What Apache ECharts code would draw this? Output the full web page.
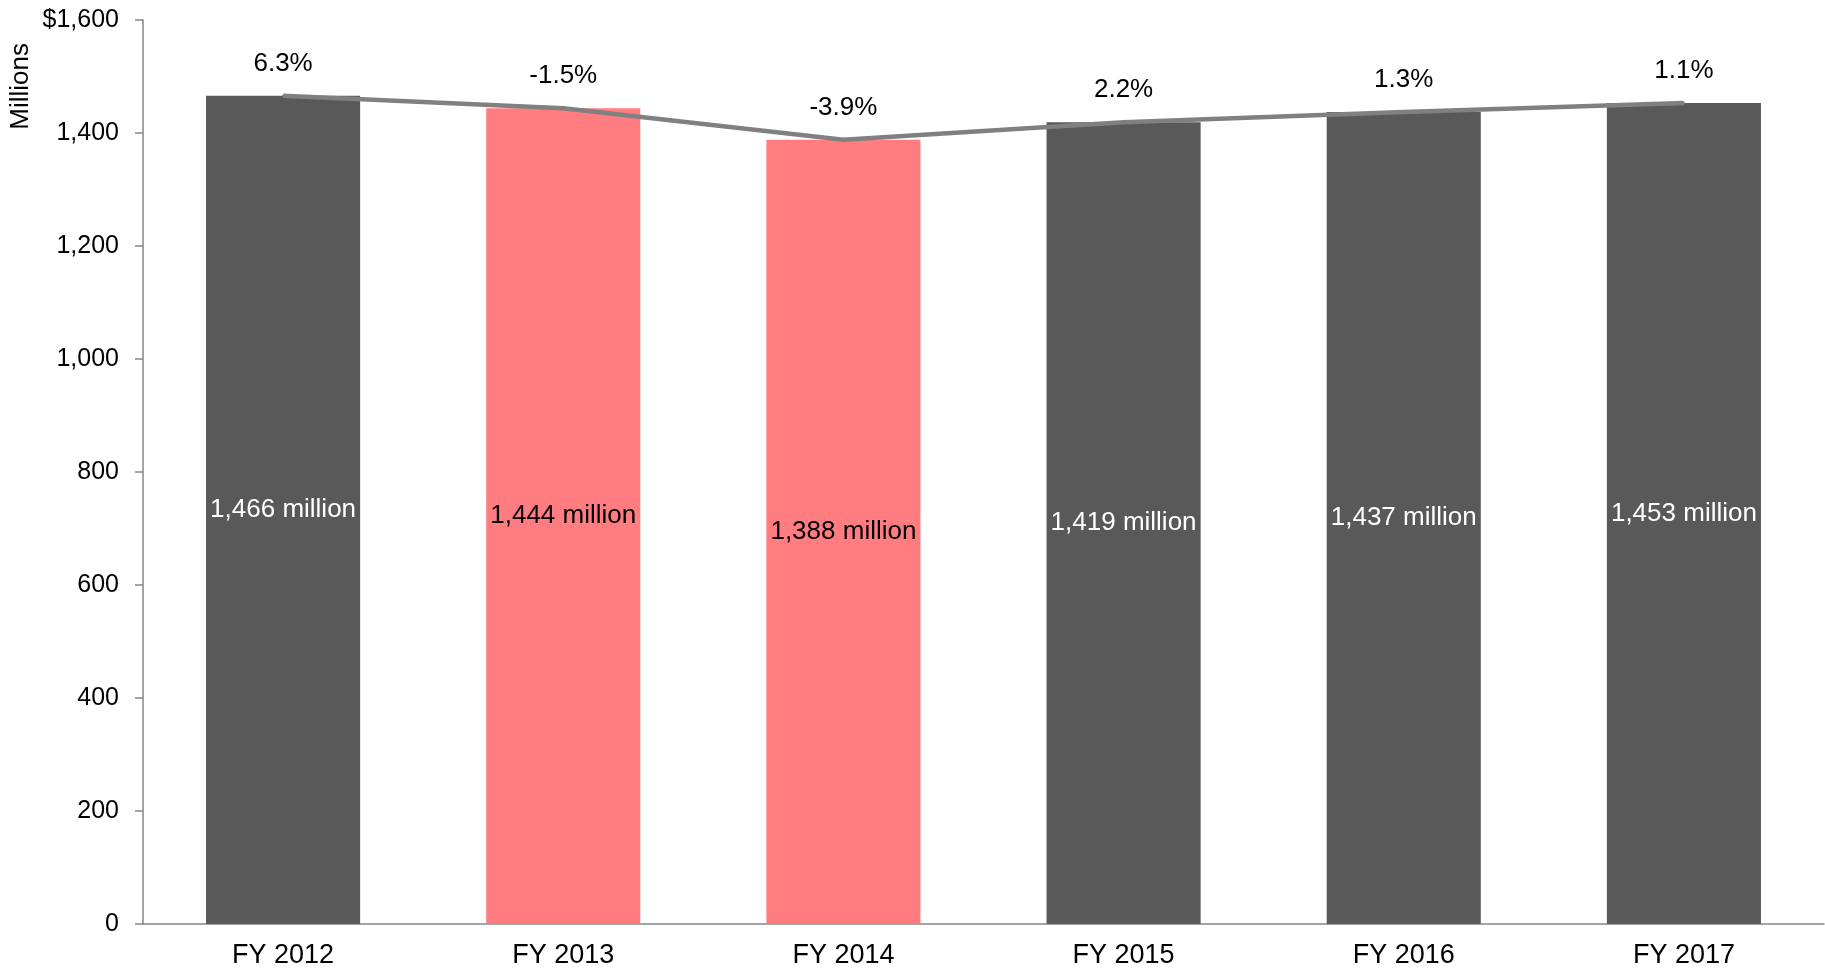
<!DOCTYPE html>
<html>
<head>
<meta charset="utf-8">
<script src="https://cdn.jsdelivr.net/npm/echarts@6/dist/echarts.min.js"></script>
<style>
  html, body { margin: 0; padding: 0; background: #fff; }
  #chart { width: 1825px; height: 980px; }
</style>
</head>
<body>
<div id="chart"></div>
<script>
// fiscal years and values (millions)
const years = ['FY 2012', 'FY 2013', 'FY 2014', 'FY 2015', 'FY 2016', 'FY 2017']
const revenue = [1466, 1444, 1388, 1419, 1437, 1453]
const growth = ['6.3%', '-1.5%', '-3.9%', '2.2%', '1.3%', '1.1%']
// bars with a decline are highlighted
const declined = [false, true, true, false, false, false]

const DARK = '#595959'
const PINK = '#FF7C80'
const FONT = 'Liberation Sans, Arial, sans-serif'

const chart = echarts.init(document.getElementById('chart'))

chart.setOption({
  animation: false,
  textStyle: { fontFamily: FONT },
  grid: { left: 143, right: 1, top: 20, bottom: 56 },
  graphic: [{
    type: 'text',
    left: 8,
    top: 43,
    rotation: Math.PI / 2,
    style: { text: 'Millions', font: '26px ' + FONT, fill: '#000' }
  }],
  xAxis: {
    type: 'category',
    data: years,
    axisLine: { lineStyle: { color: '#868686', width: 1.5 } },
    axisTick: { show: false },
    axisLabel: { color: '#000', fontSize: 27, margin: 18 }
  },
  yAxis: {
    type: 'value',
    min: 0,
    max: 1600,
    interval: 200,
    splitLine: { show: false },
    axisLine: { show: true, lineStyle: { color: '#868686', width: 1.5 } },
    axisTick: { show: true, length: 8, lineStyle: { color: '#868686', width: 1.5 } },
    axisLabel: {
      color: '#000',
      fontSize: 25,
      margin: 24,
      formatter: v => (v === 1600 ? '$' : '') + v.toLocaleString('en-US')
    }
  },
  series: [{
    type: 'bar',
    barWidth: '55%',
    data: revenue.map((v, i) => ({
      value: v,
      itemStyle: { color: declined[i] ? PINK : DARK },
      label: { color: declined[i] ? '#000' : '#fff' }
    })),
    label: {
      show: true,
      position: 'inside',
      fontSize: 26,
      formatter: p => p.value.toLocaleString('en-US') + ' million'
    }
  }, {
    type: 'line',
    data: revenue,
    symbol: 'circle',
    symbolSize: 2,
    showSymbol: true,
    itemStyle: { color: '#808080' },
    lineStyle: { color: '#808080', width: 4.5 },
    label: {
      show: true,
      position: 'top',
      distance: 18,
      color: '#000',
      fontSize: 26,
      formatter: p => growth[p.dataIndex]
    },
    labelLayout: { hideOverlap: false },
    z: 3
  }]
})
</script>
</body>
</html>
